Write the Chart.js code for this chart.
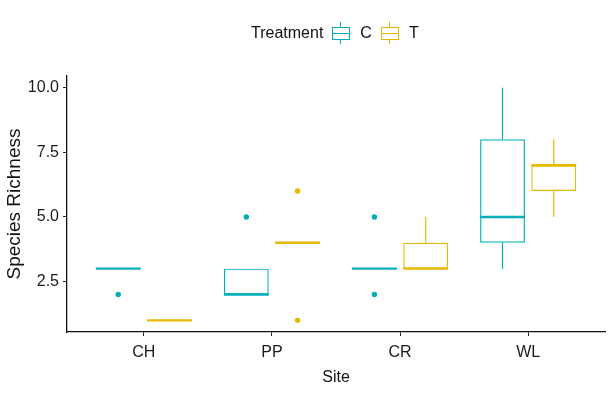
<!DOCTYPE html>
<html>
<head>
<meta charset="utf-8">
<script src="https://cdn.jsdelivr.net/npm/chart.js@4.4.1/dist/chart.umd.min.js"></script>
<style>
  body { margin: 0; background: #fff; }
  #wrap { position: relative; width: 612px; height: 394px; font-family: "Liberation Sans", Arial, sans-serif; }
  #chart { position: absolute; left: 0; top: 0; }
  #legend { position: absolute; left: 251px; top: 22px; height: 22px; display: flex; align-items: center; font-size: 16px; color: #111; }
  .key { position: relative; width: 18px; height: 22px; margin-left: 9px; }
  .key .box { position: absolute; left: 0; top: 5px; width: 16px; height: 11px; border: 1px solid; }
  .key .mid { position: absolute; left: 0; top: 11px; width: 18px; height: 1px; }
  .key .stub { position: absolute; left: 8px; width: 1px; height: 5px; }
  .lab { margin-left: 10px; }
</style>
</head>
<body>
<div id="wrap">
  <canvas id="chart" width="612" height="394"></canvas>
  <div id="legend"></div>
</div>
<script>
// ================= DATA =================
const sites = ["CH", "PP", "CR", "WL"];
const treatments = ["C", "T"];
const colors = ["#00AFBB", "#E7B800"];
const yTicks = [2.5, 5.0, 7.5, 10.0];

// control
const cLow  = [3, 2, 3, 3];
const cQ1   = [3, 2, 3, 4];
const cMed  = [3, 2, 3, 5];
const cQ3   = [3, 3, 3, 8];
const cHigh = [3, 3, 3, 10];
const cOut  = [[2], [5], [5, 2], []];

// treatment
const tLow  = [1, 4, 3, 5];
const tQ1   = [1, 4, 3, 6];
const tMed  = [1, 4, 3, 7];
const tQ3   = [1, 4, 4, 7];
const tHigh = [1, 4, 5, 8];
const tOut  = [[], [6, 1], [], []];

const dodge = 0.2;

// ================= LEGEND =================
const legend = document.getElementById("legend");
legend.innerHTML = `<span>Treatment</span>` + treatments.map((t, i) => `
  <div class="key">
    <div class="stub" style="top:0;background:${colors[i]}"></div>
    <div class="box" style="border-color:${colors[i]}"></div>
    <div class="mid" style="background:${colors[i]}"></div>
    <div class="stub" style="top:17px;background:${colors[i]}"></div>
  </div>
  <span class="lab">${t}</span>`).join("");

// ================= DATASETS =================
function boxSet(label, color, q1, q3, low, med, high) {
    return {
        type: "bar",
        label: label,
        data: sites.map((s, i) => ({ x: i, y: [q1[i], q3[i]] })),
        stats: { low: low, med: med, high: high },
        backgroundColor: "rgba(255,255,255,0)",
        borderColor: color,
        borderWidth: 1.2,
        borderSkipped: false,
        categoryPercentage: 0.8,
        barPercentage: 0.875
    };
}

function outlierSet(label, color, outs, shift) {
    const pts = [];
    outs.forEach((vals, i) => vals.forEach(v => pts.push({ x: i + shift, y: v })));
    return {
        type: "scatter",
        label: label,
        data: pts,
        backgroundColor: color,
        borderWidth: 0,
        pointRadius: 2.7
    };
}

// whiskers + median lines on top of the bars
const boxPlugin = {
    id: "boxWhiskers",
    afterDatasetsDraw(chart) {
        const ctx = chart.ctx;
        const y = chart.scales.y;
        chart.data.datasets.forEach((ds, di) => {
            if (!ds.stats) return;
            const meta = chart.getDatasetMeta(di);
            meta.data.forEach((bar, i) => {
                const { x, width } = bar.getProps(["x", "width"], true);
                const q1 = ds.data[i].y[0], q3 = ds.data[i].y[1];
                ctx.save();
                ctx.strokeStyle = ds.borderColor;
                ctx.lineWidth = 1.2;
                ctx.beginPath();
                ctx.moveTo(x, y.getPixelForValue(ds.stats.high[i]));
                ctx.lineTo(x, y.getPixelForValue(q3));
                ctx.moveTo(x, y.getPixelForValue(q1));
                ctx.lineTo(x, y.getPixelForValue(ds.stats.low[i]));
                ctx.stroke();
                ctx.lineWidth = 2.4;
                ctx.beginPath();
                const ym = y.getPixelForValue(ds.stats.med[i]);
                ctx.moveTo(x - width / 2, ym);
                ctx.lineTo(x + width / 2, ym);
                ctx.stroke();
                ctx.restore();
            });
        });
    }
};

const fam = "'Liberation Sans', Arial, sans-serif";
const tickFont = { family: fam, size: 16 };

new Chart(document.getElementById("chart"), {
    type: "bar",
    data: {
        datasets: [
            boxSet("C", colors[0], cQ1, cQ3, cLow, cMed, cHigh),
            boxSet("T", colors[1], tQ1, tQ3, tLow, tMed, tHigh),
            outlierSet("C out", colors[0], cOut, -dodge),
            outlierSet("T out", colors[1], tOut, dodge)
        ]
    },
    options: {
        responsive: false,
        animation: false,
        layout: { padding: { top: 76, right: 7, left: 0, bottom: 0 } },
        plugins: { legend: { display: false }, tooltip: { enabled: false } },
        scales: {
            x: {
                type: "linear",
                min: -0.6,
                max: 3.6,
                offset: false,
                afterBuildTicks: s => { s.ticks = sites.map((n, i) => ({ value: i })); },
                afterFit: s => { s.height = 62; },
                ticks: {
                    callback: v => sites[v],
                    font: tickFont,
                    color: "#1a1a1a",
                    padding: 7,
                    autoSkip: false,
                    maxRotation: 0
                },
                grid: { display: true, drawOnChartArea: false, offset: false, tickLength: 4, tickColor: "#222" },
                border: { display: true, color: "#111", width: 1.3 },
                title: {
                    display: true,
                    text: "Site",
                    font: { family: fam, size: 16 },
                    color: "#111",
                    padding: { top: 0, bottom: 7 }
                }
            },
            y: {
                type: "linear",
                min: 0.55,
                max: 10.45,
                afterBuildTicks: s => { s.ticks = yTicks.map(v => ({ value: v })); },
                afterFit: s => { s.width = 67; },
                ticks: {
                    callback: v => Number(v).toFixed(1),
                    font: tickFont,
                    color: "#1a1a1a",
                    padding: 4
                },
                grid: { display: true, drawOnChartArea: false, tickLength: 4, tickColor: "#222" },
                border: { display: true, color: "#111", width: 1.3 },
                title: {
                    display: true,
                    text: "Species Richness",
                    font: { family: fam, size: 19 },
                    color: "#111",
                    padding: { top: 3, bottom: 0 }
                }
            }
        }
    },
    plugins: [boxPlugin]
});
</script>
</body>
</html>
